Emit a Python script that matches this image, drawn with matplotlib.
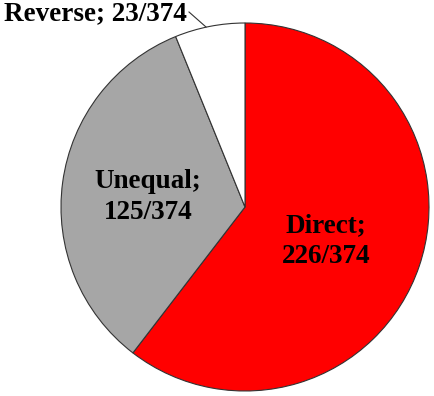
import matplotlib
matplotlib.use("Agg")
import matplotlib.pyplot as plt

# slice data, clockwise from the top
labels = ["Direct", "Unequal", "Reverse"]
counts = [226, 125, 23]
colors = ["#FF0000", "#A6A6A6", "#FFFFFF"]
total = sum(counts)

plt.rcParams['font.family'] = ['Liberation Serif', 'DejaVu Serif']

fig = plt.figure(figsize=(4.34, 3.96), dpi=100)
ax = fig.add_axes([0, 0, 1, 1])

cx, cy, r = 245, 189, 184
wedges, _ = ax.pie(counts, colors=colors, startangle=90, counterclock=False,
                   center=(cx, cy), radius=r, frame=True,
                   wedgeprops=dict(edgecolor='#333333', linewidth=0.8))
ax.set_xlim(0, 434)
ax.set_ylim(0, 396)
ax.set_aspect('equal')
ax.axis('off')

fs = 19.5
ax.text(148, 199, "%s;\n%d/%d" % (labels[1], counts[1], total), ha='center', va='center',
        fontsize=fs, fontweight='bold', linespacing=1.35)
ax.text(326, 155, "%s;\n%d/%d" % (labels[0], counts[0], total), ha='center', va='center',
        fontsize=fs, fontweight='bold', linespacing=1.35)
ax.text(4, 382, "%s; %d/%d" % (labels[2], counts[2], total), ha='left', va='center',
        fontsize=fs, fontweight='bold')
ax.plot([189, 206], [384, 369], color='#333333', linewidth=0.8)

fig.savefig("out.png", dpi=100)
